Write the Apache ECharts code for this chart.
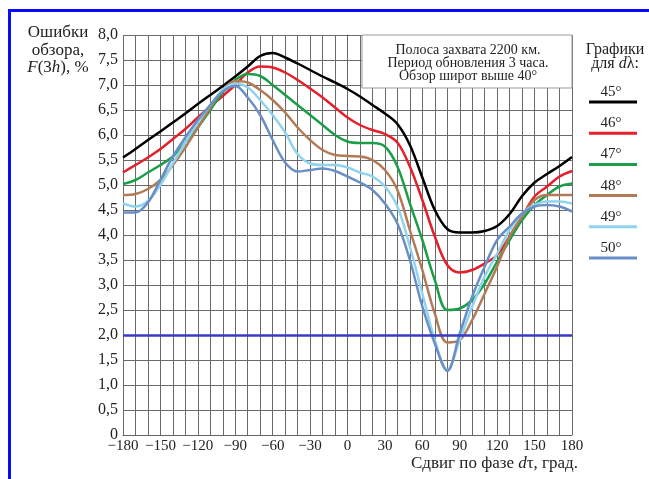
<!DOCTYPE html>
<html>
<head>
<meta charset="utf-8">
<script src="https://cdn.jsdelivr.net/npm/echarts@6/dist/echarts.min.js"></script>
<style>
  html, body { margin: 0; padding: 0; background: #fff; }
  #chart { width: 649px; height: 479px; }
</style>
</head>
<body>
<div id="chart"></div>
<script>
// фазовый сдвиг dτ, град.
const phase = [-180, -170, -160, -150, -140, -130, -120, -110, -100, -90, -80, -70, -60, -50, -40, -30, -20, -10,
  0, 10, 20, 30, 40, 50, 60, 70, 80, 90, 100, 110, 120, 130, 140, 150, 160, 170, 180]

// ошибки обзора F(3h), %
const err45 = [5.55, 5.72, 5.9, 6.07, 6.25, 6.43, 6.62, 6.8, 6.98, 7.17, 7.37, 7.58, 7.64, 7.55, 7.43, 7.3, 7.17, 7.05,
  6.92, 6.77, 6.6, 6.43, 6.22, 5.8, 5.15, 4.5, 4.12, 4.05, 4.05, 4.08, 4.18, 4.42, 4.78, 5.05, 5.22, 5.38, 5.56]
const err46 = [5.25, 5.4, 5.55, 5.72, 5.92, 6.12, 6.35, 6.57, 6.78, 7.0, 7.25, 7.37, 7.35, 7.25, 7.1, 6.93, 6.75, 6.55,
  6.35, 6.2, 6.1, 6.02, 5.85, 5.37, 4.7, 3.97, 3.4, 3.25, 3.3, 3.43, 3.6, 3.97, 4.37, 4.77, 4.97, 5.17, 5.28]
const err47 = [5.02, 5.1, 5.25, 5.4, 5.57, 5.85, 6.15, 6.5, 6.85, 7.1, 7.22, 7.18, 7.0, 6.8, 6.6, 6.4, 6.2, 6.0,
  5.87, 5.84, 5.84, 5.77, 5.37, 4.63, 3.9, 3.1, 2.5, 2.53, 2.7, 3.03, 3.47, 3.9, 4.3, 4.6, 4.8, 4.97, 5.03]
const err48 = [4.8, 4.82, 4.92, 5.1, 5.4, 5.75, 6.15, 6.55, 6.9, 7.08, 7.05, 6.9, 6.7, 6.45, 6.15, 5.9, 5.7, 5.6,
  5.58, 5.57, 5.5, 5.3, 4.9, 4.1, 3.3, 2.43, 1.85, 1.9, 2.3, 2.83, 3.37, 3.97, 4.37, 4.7, 4.8, 4.8, 4.8]
const err49 = [4.63, 4.57, 4.68, 5.0, 5.43, 5.85, 6.25, 6.6, 6.9, 7.03, 6.95, 6.7, 6.4, 6.05, 5.62, 5.43, 5.4, 5.4,
  5.35, 5.25, 5.17, 4.97, 4.57, 3.77, 2.83, 1.9, 1.3, 1.9, 2.57, 3.17, 3.63, 4.1, 4.43, 4.6, 4.67, 4.67, 4.63]
const err50 = [4.45, 4.45, 4.65, 5.1, 5.57, 5.95, 6.3, 6.6, 6.87, 6.98, 6.75, 6.4, 5.9, 5.45, 5.27, 5.3, 5.33, 5.28,
  5.17, 5.05, 4.9, 4.63, 4.23, 3.5, 2.57, 1.83, 1.28, 2.03, 2.77, 3.37, 3.9, 4.17, 4.43, 4.57, 4.6, 4.57, 4.47]

const thresholdValue = 2.0

const seriesNames = ['45°', '46°', '47°', '48°', '49°', '50°']
const seriesData = [err45, err46, err47, err48, err49, err50]
const seriesColors = ['#000000', '#e3202b', '#1a9f48', '#b27a55', '#8fd4ee', '#6a8ec6']

const serif = "'Liberation Serif', 'DejaVu Serif', serif"

const chart = echarts.init(document.getElementById('chart'))

const series = seriesNames.map((name, i) => ({
  name,
  type: 'line',
  smooth: 0.35,
  showSymbol: false,
  data: phase.map((x, k) => [x, seriesData[i][k]]),
  lineStyle: { color: seriesColors[i], width: 2.5 },
  z: 3
}))

series.push({
  type: 'line',
  data: [],
  markLine: {
    silent: true,
    symbol: 'none',
    label: { show: false },
    lineStyle: { color: '#3a3ac8', width: 2.5, type: 'solid' },
    data: [{ yAxis: thresholdValue }]
  },
  z: 2
})

// легенда справа
const legendItems = []
seriesNames.forEach((name, i) => {
  const y = 92 + i * 31.2
  legendItems.push({
    type: 'text',
    x: 611, y: y,
    style: { text: name, font: '15px ' + serif, fill: '#222', align: 'center', verticalAlign: 'middle' }
  })
  legendItems.push({
    type: 'line',
    shape: { x1: 589, y1: y + 10, x2: 637, y2: y + 10 },
    style: { stroke: seriesColors[i], lineWidth: 3 }
  })
})

const option = {
  animation: false,
  backgroundColor: '#fff',
  grid: { left: 123, right: 77, top: 35, bottom: 44 },
  xAxis: {
    type: 'value',
    min: -180,
    max: 180,
    interval: 10,
    axisLine: { lineStyle: { color: '#666' } },
    axisTick: { show: false },
    splitLine: { lineStyle: { color: '#6a6a6a', width: 1 } },
    axisLabel: {
      margin: 4,
      color: '#222',
      fontFamily: serif,
      fontSize: 15,
      formatter: v => (v % 30 === 0 ? String(v).replace('-', '\u2212') : '')
    }
  },
  yAxis: {
    type: 'value',
    min: 0,
    max: 8,
    interval: 0.5,
    axisLine: { show: true, lineStyle: { color: '#666' } },
    axisTick: { show: false },
    splitLine: { lineStyle: { color: '#6a6a6a', width: 1 } },
    axisLabel: {
      margin: 5,
      color: '#222',
      fontFamily: serif,
      fontSize: 16,
      formatter: v => (v === 0 ? '0' : v.toFixed(1).replace('.', ','))
    }
  },
  series,
  graphic: [
    // синяя рамка
    { type: 'rect', shape: { x: 8, y: 9, width: 641, height: 3 }, style: { fill: '#0a0aff' } },
    { type: 'rect', shape: { x: 8, y: 9, width: 3, height: 470 }, style: { fill: '#0a0aff' } },
    // подпись оси Y
    {
      type: 'text', x: 58, y: 24,
      style: {
        text: 'Ошибки\nобзора,\n{i|F}(3{i|h}), %',
        font: '17px ' + serif, fill: '#222', lineHeight: 17.5, align: 'center',
        rich: { i: { fontStyle: 'italic', fontFamily: serif, fontSize: 17 } }
      }
    },
    // подпись оси X
    {
      type: 'text', x: 578, y: 455,
      style: {
        text: 'Сдвиг по фазе {i|d}τ, град.',
        font: '17px ' + serif, fill: '#222', align: 'right',
        rich: { i: { fontStyle: 'italic', fontFamily: serif, fontSize: 17 } }
      }
    },
    // пояснение
    {
      type: 'rect', z: 10,
      shape: { x: 362, y: 35, width: 210, height: 53 },
      style: { fill: '#fff', stroke: '#999', lineWidth: 1 }
    },
    {
      type: 'text', z: 11, x: 468, y: 44,
      style: {
        text: 'Полоса захвата 2200 км.\nПериод обновления 3 часа.\nОбзор широт выше 40°',
        font: '14px ' + serif, fill: '#222', lineHeight: 13, align: 'center'
      }
    },
    // заголовок легенды
    {
      type: 'text', x: 615, y: 43,
      style: {
        text: 'Графики\nдля {i|d}λ:',
        font: '16px ' + serif, fill: '#222', lineHeight: 14, align: 'center',
        rich: { i: { fontStyle: 'italic', fontFamily: serif, fontSize: 16 } }
      }
    },
    ...legendItems
  ]
}

chart.setOption(option)
window.addEventListener('resize', () => chart.resize())
</script>
</body>
</html>
